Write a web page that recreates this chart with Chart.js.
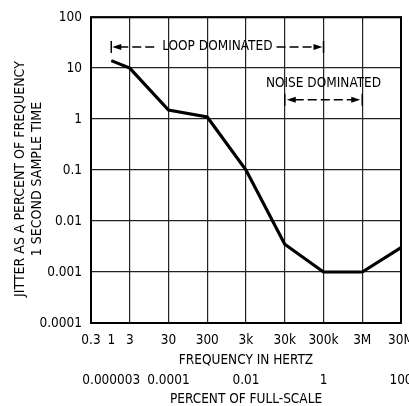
<!DOCTYPE html>
<html>
<head>
<meta charset="utf-8">
<script src="https://cdn.jsdelivr.net/npm/chart.js@4/dist/chart.umd.min.js"></script>
<style>
  html, body { margin: 0; padding: 0; background: #fff; overflow: hidden; }
</style>
</head>
<body>
<canvas id="jitterChart" width="409" height="406"></canvas>
<script>
// curve
const freqHz = [1, 3, 30, 300, 3000, 30000, 300000, 3000000, 30000000];
const jitterPct = [14, 10, 1.5, 1.1, 0.1, 0.0035, 0.001, 0.001, 0.003];

// axis ticks
const freqTicks = [0.3, 1, 3, 30, 300, 3000, 30000, 300000, 3000000, 30000000];
const freqLabels = ['0.3', '1', '3', '30', '300', '3k', '30k', '300k', '3M', '30M'];
const pctTicksHz = [1, 30, 3000, 300000, 30000000];
const pctLabels = ['0.000003', '0.0001', '0.01', '1', '100'];
const jitterTicks = [0.0001, 0.001, 0.01, 0.1, 1, 10, 100];
const jitterLabels = ['0.0001', '0.001', '0.01', '0.1', '1', '10', '100'];

// annotation spans (Hz) and levels (% jitter)
const loopSpan = [1, 300000];
const loopLevel = 26;
const noiseSpan = [30000, 3000000];
const noiseLevel = 2.4;
const noiseTextLevel = 4.9;
const yTitle = ['JITTER AS A PERCENT OF FREQUENCY', '1 SECOND SAMPLE TIME'];

const FONT = "'DejaVu Sans Condensed', 'Liberation Sans Narrow', sans-serif";
const ink = '#000';

Chart.defaults.font.family = FONT;
Chart.defaults.font.size = 13.5;
Chart.defaults.color = ink;

function arrowHead(ctx, x, y, dir) {
  ctx.beginPath();
  ctx.moveTo(x, y);
  ctx.lineTo(x - dir * 9, y - 3);
  ctx.lineTo(x - dir * 9, y + 3);
  ctx.closePath();
  ctx.fill();
}

function dashed(ctx, x1, x2, y) {
  ctx.save();
  ctx.setLineDash([9, 4]);
  ctx.beginPath();
  ctx.moveTo(x1, y);
  ctx.lineTo(x2, y);
  ctx.stroke();
  ctx.restore();
}

function bar(ctx, x, y) {
  ctx.beginPath();
  ctx.moveTo(x, y - 6);
  ctx.lineTo(x, y + 6);
  ctx.stroke();
}

const annotate = {
  id: 'annotate',
  afterDatasetsDraw(chart) {
    const {ctx, chartArea, scales: {x, y}} = chart;
    ctx.save();
    ctx.fillStyle = ink;
    ctx.strokeStyle = ink;
    ctx.font = '13.5px ' + FONT;
    ctx.textBaseline = 'middle';
    ctx.textAlign = 'center';

    // plot frame
    ctx.lineWidth = 2;
    ctx.strokeRect(chartArea.left, chartArea.top, chartArea.right - chartArea.left, chartArea.bottom - chartArea.top);
    ctx.lineWidth = 1.5;

    // loop dominated
    let x1 = x.getPixelForValue(loopSpan[0]);
    let x2 = x.getPixelForValue(loopSpan[1]);
    let yy = y.getPixelForValue(loopLevel);
    let label = 'LOOP DOMINATED';
    let w = ctx.measureText(label).width;
    let cx = (x1 + x2) / 2;
    ctx.fillText(label, cx, yy);
    bar(ctx, x1, yy);
    bar(ctx, x2, yy);
    arrowHead(ctx, x1 + 1, yy, -1);
    arrowHead(ctx, x2 - 1, yy, 1);
    dashed(ctx, x1 + 8, cx - w / 2 - 4, yy);
    dashed(ctx, cx + w / 2 + 4, x2 - 8, yy);

    // noise dominated
    x1 = x.getPixelForValue(noiseSpan[0]);
    x2 = x.getPixelForValue(noiseSpan[1]);
    yy = y.getPixelForValue(noiseLevel);
    ctx.fillText('NOISE DOMINATED', (x1 + x2) / 2, y.getPixelForValue(noiseTextLevel));
    bar(ctx, x1, yy);
    bar(ctx, x2, yy);
    arrowHead(ctx, x1 + 2, yy, -1);
    arrowHead(ctx, x2 - 2, yy, 1);
    dashed(ctx, x1 + 10, x2 - 10, yy);

    // y axis title, two lines
    ctx.font = '14px ' + FONT;
    ctx.save();
    ctx.translate(20, (chartArea.top + chartArea.bottom) / 2 + 9);
    ctx.rotate(-Math.PI / 2);
    ctx.fillText(yTitle[0], 0, 0);
    ctx.fillText(yTitle[1], 0, 17.5);
    ctx.restore();

    ctx.restore();
  }
};

function fixTicks(values) {
  return scale => { scale.ticks = values.map(v => ({value: v})); };
}

const config = {
  type: 'line',
  data: {
    datasets: [{
      data: freqHz.map((f, i) => ({x: f, y: jitterPct[i]})),
      borderColor: ink,
      borderWidth: 3.2,
      pointRadius: 0,
      tension: 0,
      fill: false,
    }],
  },
  options: {
    responsive: false,
    animation: false,
    devicePixelRatio: 1,
    layout: { padding: { left: 0, right: 8, top: 16, bottom: 0 } },
    plugins: { legend: { display: false }, tooltip: { enabled: false } },
    scales: {
      x: {
        type: 'logarithmic',
        position: 'bottom',
        min: 0.3,
        max: 30000000,
        afterBuildTicks: fixTicks(freqTicks),
        afterFit: s => { s.height = 45; s.paddingLeft = 0; s.paddingRight = 0; },
        ticks: {
          autoSkip: false,
          maxRotation: 0,
          padding: 9,
          callback: v => freqLabels[freqTicks.indexOf(v)],
        },
        grid: {
          drawTicks: false,
          color: c => (c.tick && c.tick.value === 1) ? 'rgba(0,0,0,0)' : '#222',
          lineWidth: 1.2,
        },
        border: { display: false },
        title: { display: true, text: 'FREQUENCY IN HERTZ', padding: { top: 0, bottom: -1 } },
      },
      x2: {
        type: 'logarithmic',
        position: 'bottom',
        min: 0.3,
        max: 30000000,
        afterBuildTicks: fixTicks(pctTicksHz),
        afterFit: s => { s.height = 38; s.paddingLeft = 0; s.paddingRight = 0; },
        ticks: {
          autoSkip: false,
          maxRotation: 0,
          padding: 4,
          callback: v => pctLabels[pctTicksHz.indexOf(v)],
        },
        grid: { display: false, drawTicks: false },
        border: { display: false },
        title: { display: true, text: 'PERCENT OF FULL-SCALE', padding: { top: 0, bottom: -2 } },
      },
      y: {
        type: 'logarithmic',
        min: 0.0001,
        max: 100,
        afterBuildTicks: fixTicks(jitterTicks),
        afterFit: s => { s.width = 91; },
        ticks: {
          autoSkip: false,
          padding: 9,
          callback: v => jitterLabels[jitterTicks.indexOf(v)],
        },
        grid: { drawTicks: false, color: '#222', lineWidth: 1.2 },
        border: { display: false },
      },
    },
  },
  plugins: [annotate],
};

var jitterChart = new Chart(document.getElementById('jitterChart'), config);
</script>
</body>
</html>
